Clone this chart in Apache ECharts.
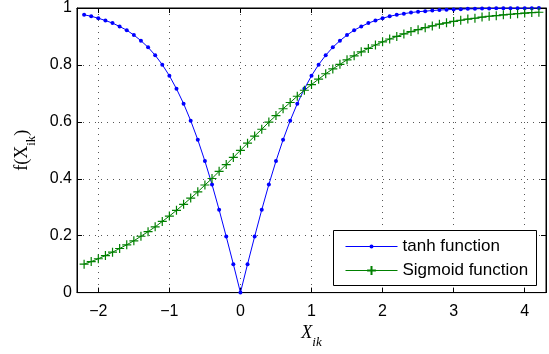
<!DOCTYPE html>
<html>
<head>
<meta charset="utf-8">
<script src="https://cdn.jsdelivr.net/npm/echarts@6/dist/echarts.min.js"></script>
<style>
  html, body { margin: 0; padding: 0; background: #fff; }
  #chart { width: 549px; height: 354px; }
</style>
</head>
<body>
<div id="chart"></div>
<script>
// x sample points, step 0.1
const xs = [
  -2.2, -2.1, -2.0, -1.9, -1.8, -1.7, -1.6, -1.5, -1.4, -1.3, -1.2, -1.1,
  -1.0, -0.9, -0.8, -0.7, -0.6, -0.5, -0.4, -0.3, -0.2, -0.1, 0.0,
  0.1, 0.2, 0.3, 0.4, 0.5, 0.6, 0.7, 0.8, 0.9, 1.0,
  1.1, 1.2, 1.3, 1.4, 1.5, 1.6, 1.7, 1.8, 1.9, 2.0,
  2.1, 2.2, 2.3, 2.4, 2.5, 2.6, 2.7, 2.8, 2.9, 3.0,
  3.1, 3.2, 3.3, 3.4, 3.5, 3.6, 3.7, 3.8, 3.9, 4.0,
  4.1, 4.2
];

const tanhVals = [
  0.976, 0.971, 0.964, 0.956, 0.947, 0.935, 0.922, 0.905, 0.885, 0.862, 0.834, 0.801,
  0.762, 0.716, 0.664, 0.604, 0.537, 0.462, 0.380, 0.291, 0.197, 0.100, 0.000,
  0.100, 0.197, 0.291, 0.380, 0.462, 0.537, 0.604, 0.664, 0.716, 0.762,
  0.801, 0.834, 0.862, 0.885, 0.905, 0.922, 0.935, 0.947, 0.956, 0.964,
  0.971, 0.976, 0.980, 0.984, 0.987, 0.989, 0.991, 0.993, 0.994, 0.995,
  0.996, 0.997, 0.997, 0.998, 0.998, 0.999, 0.999, 0.999, 0.999, 0.999,
  0.9995, 1.000
];

const sigmoidVals = [
  0.100, 0.109, 0.119, 0.130, 0.142, 0.155, 0.168, 0.182, 0.198, 0.214, 0.231, 0.250,
  0.269, 0.289, 0.310, 0.332, 0.354, 0.378, 0.401, 0.426, 0.450, 0.475, 0.500,
  0.525, 0.550, 0.574, 0.599, 0.622, 0.646, 0.668, 0.690, 0.711, 0.731,
  0.750, 0.769, 0.786, 0.802, 0.818, 0.832, 0.846, 0.858, 0.870, 0.881,
  0.891, 0.900, 0.909, 0.917, 0.924, 0.931, 0.937, 0.943, 0.948, 0.953,
  0.957, 0.961, 0.964, 0.968, 0.971, 0.973, 0.976, 0.978, 0.980, 0.982,
  0.984, 0.985
];

const xTicks = [-2, -1, 0, 1, 2, 3, 4];
const seriesNames = ['tanh function', 'Sigmoid function'];

const FONT = '"Liberation Sans", Arial, Helvetica, sans-serif';
const SERIF = '"Liberation Serif", "Times New Roman", serif';

const chart = echarts.init(document.getElementById('chart'), null, { renderer: 'canvas' });

const tickStyle = { show: true, inside: true, length: 5, lineStyle: { color: '#000', width: 1 } };
const xTickStyle = Object.assign({ customValues: xTicks }, tickStyle);
const lineStyle = { show: true, onZero: false, lineStyle: { color: '#000', width: 1 } };
const gridDots = { show: true, lineStyle: { color: '#555', width: 1, type: [1, 5] } };

const legendText = { fontFamily: FONT, fontSize: 17, color: '#000' };

chart.setOption({
  animation: false,
  backgroundColor: '#fff',
  grid: { left: 77, right: 3, top: 8, bottom: 56, show: true, borderColor: '#000', borderWidth: 1 },
  graphic: [{
    type: 'rect',
    shape: { x: 333.5, y: 230.5, width: 203, height: 55 },
    style: { fill: '#fff', stroke: '#000', lineWidth: 1 },
    z: 50
  }],
  legend: [{
    orient: 'vertical', left: 345, top: 238, padding: 0, z: 60,
    data: [seriesNames[0]],
    itemWidth: 52, itemHeight: 5,
    lineStyle: { width: 1 },
    textStyle: legendText
  }, {
    orient: 'vertical', left: 345, top: 262, padding: 0, z: 60,
    data: [seriesNames[1]],
    itemWidth: 52, itemHeight: 11,
    lineStyle: { width: 1 },
    textStyle: legendText
  }],
  xAxis: [{
    type: 'value',
    min: -2.3, max: 4.3,
    axisLine: lineStyle, axisTick: xTickStyle, splitLine: gridDots,
    axisLabel: {
      customValues: xTicks,
      formatter: v => String(v).replace('-', '\u2212'),
      fontFamily: FONT, fontSize: 16, color: '#000', margin: 11
    },
    name: '{a|X}{b|ik}',
    nameLocation: 'middle', nameGap: 24,
    nameTextStyle: {
      rich: {
        a: { fontFamily: SERIF, fontStyle: 'italic', fontSize: 18, color: '#000' },
        b: { fontFamily: SERIF, fontStyle: 'italic', fontSize: 13, color: '#000', padding: [18, 0, 0, 0] }
      }
    }
  }, {
    type: 'value', position: 'top',
    min: -2.3, max: 4.3,
    axisLine: lineStyle, axisTick: xTickStyle, splitLine: { show: false },
    axisLabel: { show: false }
  }],
  yAxis: [{
    type: 'value',
    min: 0, max: 1, interval: 0.2,
    axisLine: lineStyle, axisTick: tickStyle, splitLine: gridDots,
    axisLabel: { fontFamily: FONT, fontSize: 16, color: '#000', margin: 5 },
    name: '{a|f(X}{b|ik}{a|)}',
    nameLocation: 'middle', nameGap: 39, nameRotate: 90,
    nameTextStyle: {
      rich: {
        a: { fontFamily: SERIF, fontSize: 18, color: '#000' },
        b: { fontFamily: SERIF, fontSize: 13, color: '#000', padding: [18, 0, 0, 0] }
      }
    }
  }, {
    type: 'value', position: 'right',
    min: 0, max: 1, interval: 0.2,
    axisLine: lineStyle, axisTick: tickStyle, splitLine: { show: false },
    axisLabel: { show: false }
  }],
  series: [{
    name: seriesNames[0],
    type: 'line',
    data: xs.map((x, i) => [x, tanhVals[i]]),
    symbol: 'circle', symbolSize: 4,
    showSymbol: true,
    lineStyle: { color: '#0000ff', width: 1 },
    itemStyle: { color: '#0000ff' }
  }, {
    name: seriesNames[1],
    type: 'line',
    data: xs.map((x, i) => [x, sigmoidVals[i]]),
    symbol: 'path://M5,0L5,10M0,5L10,5', symbolSize: 9,
    showSymbol: true,
    lineStyle: { color: '#008000', width: 1 },
    itemStyle: { color: '#008000', borderColor: '#008000', borderWidth: 1.2 }
  }]
});
</script>
</body>
</html>
